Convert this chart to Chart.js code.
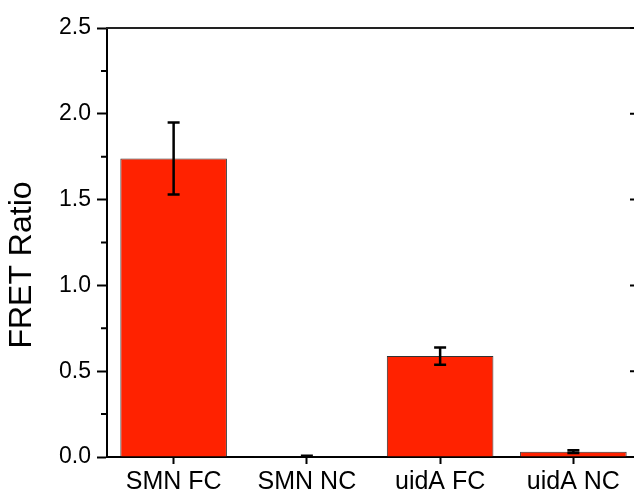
<!DOCTYPE html>
<html>
<head>
<meta charset="utf-8">
<script src="https://cdn.jsdelivr.net/npm/chart.js@4"></script>
<style>
  html, body { margin: 0; padding: 0; overflow: hidden; background: #ffffff; }
  #wrap { width: 646px; height: 494px; position: relative; }
</style>
</head>
<body>
<div id="wrap"><canvas id="c" width="646" height="494"></canvas></div>
<script>
// FRET ratio per construct, with error (± half-range)
const categories = ['SMN FC', 'SMN NC', 'uidA FC', 'uidA NC'];
const fretRatio  = [1.74, 0.004, 0.588, 0.031];
const fretError  = [0.21, 0.003, 0.05, 0.008];
const yTicks      = [0, 0.5, 1.0, 1.5, 2.0, 2.5];
const yMinorTicks = [0.25, 0.75, 1.25, 1.75, 2.25];
const yTitle = 'FRET Ratio';

const FONT = '"Liberation Sans", Arial, Helvetica, sans-serif';

// Frame (top + right axis with inward ticks) and minor ticks on the left axis
const framePlugin = {
  id: 'frame',
  afterDraw(chart) {
    const { ctx, chartArea: a, scales: { y } } = chart;
    ctx.save();
    ctx.strokeStyle = '#222';
    ctx.lineWidth = 2;
    ctx.beginPath();
    ctx.moveTo(a.left - 1, a.top);
    ctx.lineTo(a.right + 1, a.top);
    ctx.moveTo(a.right, a.top);
    ctx.lineTo(a.right, a.bottom);
    ctx.stroke();
    ctx.strokeStyle = '#000';
    ctx.beginPath();
    yTicks.forEach(v => {
      const py = y.getPixelForValue(v);
      ctx.moveTo(a.right, py); ctx.lineTo(a.right - 10, py);
    });
    yMinorTicks.forEach(v => {
      const py = y.getPixelForValue(v);
      ctx.moveTo(a.right, py); ctx.lineTo(a.right - 6, py);
      ctx.moveTo(a.left, py); ctx.lineTo(a.left - 6, py);
    });
    ctx.stroke();
    ctx.restore();
  }
};

// Vertical error bars with caps
const errorBarPlugin = {
  id: 'errorBars',
  afterDatasetsDraw(chart) {
    const { ctx, scales: { y } } = chart;
    const meta = chart.getDatasetMeta(0);
    ctx.save();
    ctx.strokeStyle = '#000';
    ctx.lineWidth = 2.5;
    meta.data.forEach((bar, i) => {
      const v = fretRatio[i], e = fretError[i];
      const yt = y.getPixelForValue(v + e);
      const yb = y.getPixelForValue(v - e);
      const x = bar.x;
      ctx.beginPath();
      ctx.moveTo(x, yt); ctx.lineTo(x, yb);
      ctx.moveTo(x - 6, yt); ctx.lineTo(x + 6, yt);
      ctx.moveTo(x - 6, yb); ctx.lineTo(x + 6, yb);
      ctx.stroke();
    });
    ctx.restore();
  }
};

// Rotated y-axis title
const yTitlePlugin = {
  id: 'yTitle',
  afterDraw(chart) {
    const { ctx } = chart;
    ctx.save();
    ctx.translate(22, 265);
    ctx.rotate(-Math.PI / 2);
    ctx.font = '32px ' + FONT;
    ctx.fillStyle = '#000';
    ctx.textAlign = 'center';
    ctx.textBaseline = 'middle';
    ctx.fillText(yTitle, 0, 0);
    ctx.restore();
  }
};

new Chart(document.getElementById('c'), {
  type: 'bar',
  data: {
    labels: categories,
    datasets: [{
      data: fretRatio,
      backgroundColor: '#ff2200',
      borderColor: '#333333',
      borderWidth: 1,
      barPercentage: 0.8,
      categoryPercentage: 1.0
    }]
  },
  options: {
    responsive: false,
    animation: false,
    layout: { padding: { top: 28, right: 6, left: 0, bottom: 0 } },
    plugins: { legend: { display: false }, tooltip: { enabled: false } },
    scales: {
      x: {
        offset: true,
        grid: { offset: false, drawOnChartArea: false, tickLength: 7, tickWidth: 2, color: '#000' },
        border: { color: '#000', width: 2 },
        ticks: { color: '#000', font: { family: FONT, size: 25 }, padding: 3, maxRotation: 0 },
        afterFit(s) { s.height = 37; }
      },
      y: {
        min: 0,
        max: 2.5,
        afterBuildTicks(s) { s.ticks = yTicks.map(v => ({ value: v })); },
        grid: { drawOnChartArea: false, tickLength: 10, tickWidth: 2, color: '#000' },
        border: { color: '#000', width: 2 },
        ticks: { color: '#000', font: { family: FONT, size: 23 }, padding: 6, callback: v => Number(v).toFixed(1) },
        afterFit(s) { s.width = 107; }
      }
    }
  },
  plugins: [framePlugin, errorBarPlugin, yTitlePlugin]
});
</script>
</body>
</html>
